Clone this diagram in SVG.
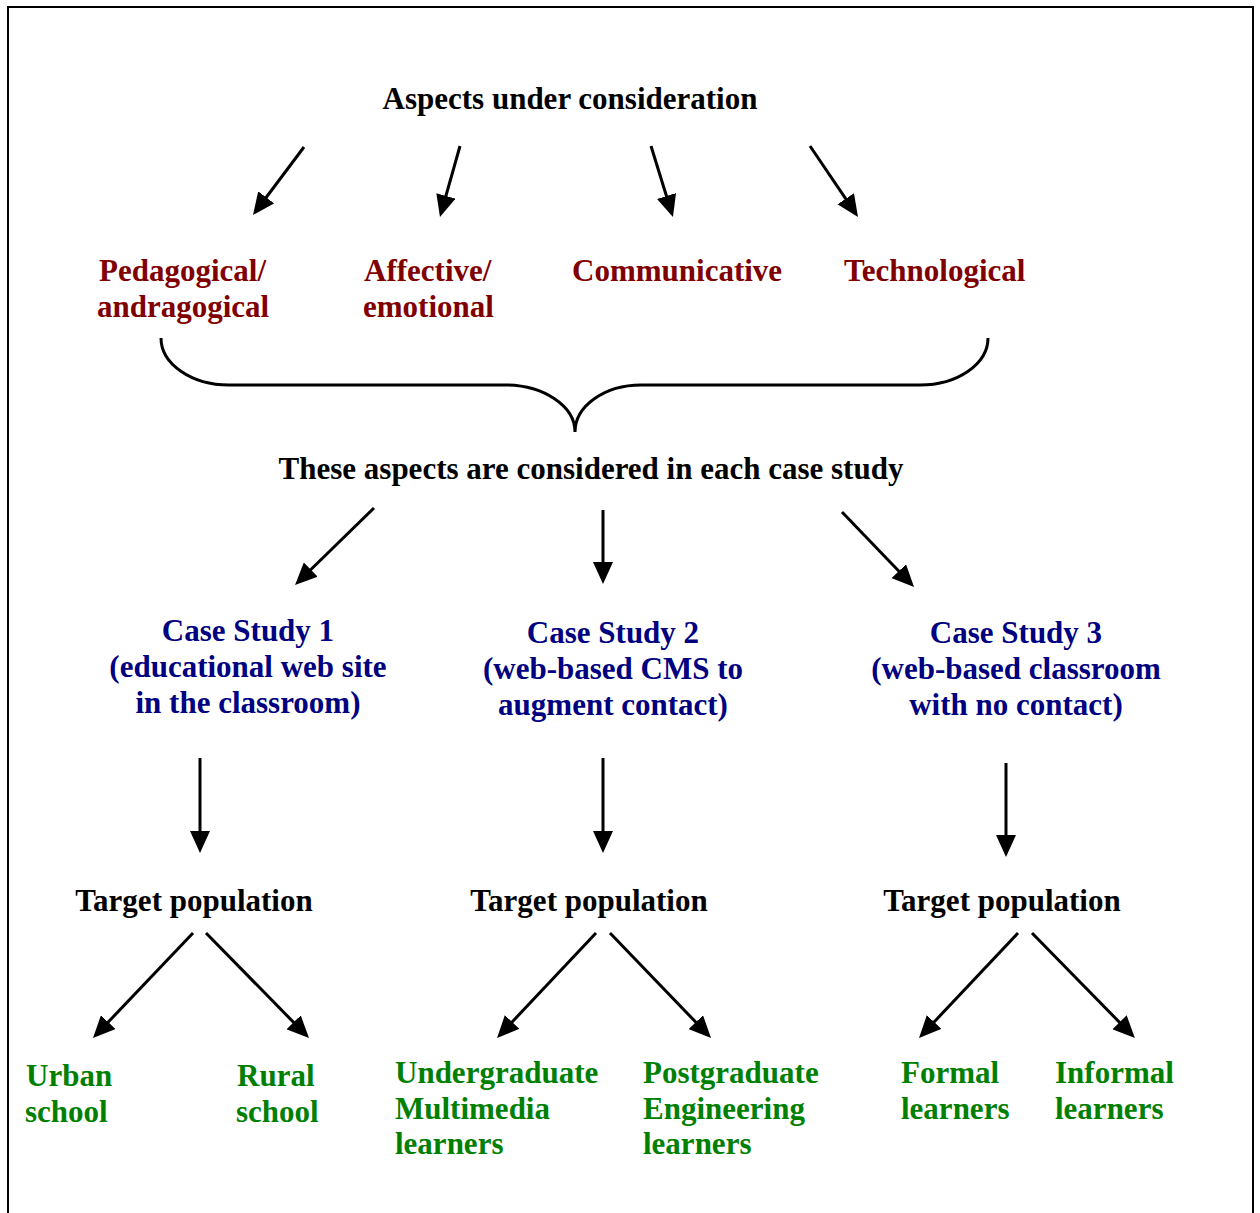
<svg xmlns="http://www.w3.org/2000/svg" width="1260" height="1213" viewBox="0 0 1260 1213">
  <style>
    text { font-family: "Liberation Serif", "Times New Roman", serif; font-weight: bold; font-size: 31px; }
    .hd { fill: #000000; }
    .asp { fill: #800000; }
    .cs { fill: #000080; text-anchor: middle; }
    .pop { fill: #000000; text-anchor: middle; }
    .grp { fill: #008000; }
    .conn line { stroke: #000000; stroke-width: 3; fill: none; marker-end: url(#arrow); }
    .brace { stroke: #000000; stroke-width: 3; fill: none; }
  </style>
  <defs>
    <marker id="arrow" markerUnits="userSpaceOnUse" viewBox="0 0 22 20" refX="12" refY="10" markerWidth="22" markerHeight="20" orient="auto">
      <path d="M0,0 L22,10 L0,20 z" fill="#000000"/>
    </marker>
  </defs>
  <rect width="1260" height="1213" fill="#ffffff"/>

  <!-- page frame -->
  <path d="M8,1213 V7 H1253 V1213" fill="none" stroke="#000000" stroke-width="2"/>

  <g id="aspects-title">
    <text class="hd" x="570" y="109" text-anchor="middle">Aspects under consideration</text>
  </g>

  <g id="pedagogical">
    <text class="asp" x="99" y="281">Pedagogical/</text>
    <text class="asp" x="97" y="317">andragogical</text>
  </g>
  <g id="affective">
    <text class="asp" x="364" y="281">Affective/</text>
    <text class="asp" x="363" y="317">emotional</text>
  </g>
  <g id="communicative">
    <text class="asp" x="572" y="281">Communicative</text>
  </g>
  <g id="technological">
    <text class="asp" x="844" y="281">Technological</text>
  </g>

  <!-- curly brace gathering the four aspects -->
  <g id="brace">
    <path class="brace" d="M161,338 A68,47 0 0 0 229,385 L505,385 A70,47 0 0 1 575,432 A66,47 0 0 1 641,385 L920,385 A68,47 0 0 0 988,338"/>
  </g>

  <g id="each-case">
    <text class="hd" x="591" y="479" text-anchor="middle">These aspects are considered in each case study</text>
  </g>

  <g id="case-study-1">
    <text class="cs" x="248" y="641">Case Study 1</text>
    <text class="cs" x="248" y="677">(educational web site</text>
    <text class="cs" x="248" y="713">in the classroom)</text>
  </g>
  <g id="case-study-2">
    <text class="cs" x="613" y="643">Case Study 2</text>
    <text class="cs" x="613" y="679">(web-based CMS to</text>
    <text class="cs" x="613" y="715">augment contact)</text>
  </g>
  <g id="case-study-3">
    <text class="cs" x="1016" y="643">Case Study 3</text>
    <text class="cs" x="1016" y="679">(web-based classroom</text>
    <text class="cs" x="1016" y="715">with no contact)</text>
  </g>

  <g id="population-1">
    <text class="pop" x="194" y="911">Target population</text>
  </g>
  <g id="population-2">
    <text class="pop" x="589" y="911">Target population</text>
  </g>
  <g id="population-3">
    <text class="pop" x="1002" y="911">Target population</text>
  </g>

  <g id="urban-school">
    <text class="grp" x="26" y="1086">Urban</text>
    <text class="grp" x="25" y="1122">school</text>
  </g>
  <g id="rural-school">
    <text class="grp" x="237" y="1086">Rural</text>
    <text class="grp" x="236" y="1122">school</text>
  </g>
  <g id="undergraduate">
    <text class="grp" x="395" y="1083">Undergraduate</text>
    <text class="grp" x="395" y="1119">Multimedia</text>
    <text class="grp" x="395" y="1154">learners</text>
  </g>
  <g id="postgraduate">
    <text class="grp" x="643" y="1083">Postgraduate</text>
    <text class="grp" x="643" y="1119">Engineering</text>
    <text class="grp" x="643" y="1154">learners</text>
  </g>
  <g id="formal">
    <text class="grp" x="901" y="1083">Formal</text>
    <text class="grp" x="901" y="1119">learners</text>
  </g>
  <g id="informal">
    <text class="grp" x="1055" y="1083">Informal</text>
    <text class="grp" x="1055" y="1119">learners</text>
  </g>

  <g id="connectors" class="conn">
    <!-- title to aspects -->
    <line x1="304" y1="147" x2="259" y2="207"/>
    <line x1="460" y1="146" x2="442.7" y2="207.4"/>
    <line x1="651" y1="146" x2="670" y2="207.5"/>
    <line x1="810" y1="146" x2="852.4" y2="208.7"/>
    <!-- to case studies -->
    <line x1="374" y1="508" x2="302.2" y2="578"/>
    <line x1="603" y1="510" x2="603" y2="574"/>
    <line x1="842" y1="512" x2="907.1" y2="579.8"/>
    <!-- case study to population -->
    <line x1="200" y1="758" x2="200" y2="843"/>
    <line x1="603" y1="758" x2="603" y2="843"/>
    <line x1="1006" y1="763" x2="1006" y2="847"/>
    <!-- population to groups -->
    <line x1="193" y1="933" x2="99.9" y2="1030.8"/>
    <line x1="206" y1="933" x2="302" y2="1030.9"/>
    <line x1="596" y1="933" x2="503.9" y2="1030.7"/>
    <line x1="610" y1="933" x2="704.1" y2="1030.8"/>
    <line x1="1018" y1="933" x2="925.9" y2="1030.7"/>
    <line x1="1032" y1="933" x2="1127.9" y2="1030.9"/>
  </g>
</svg>
